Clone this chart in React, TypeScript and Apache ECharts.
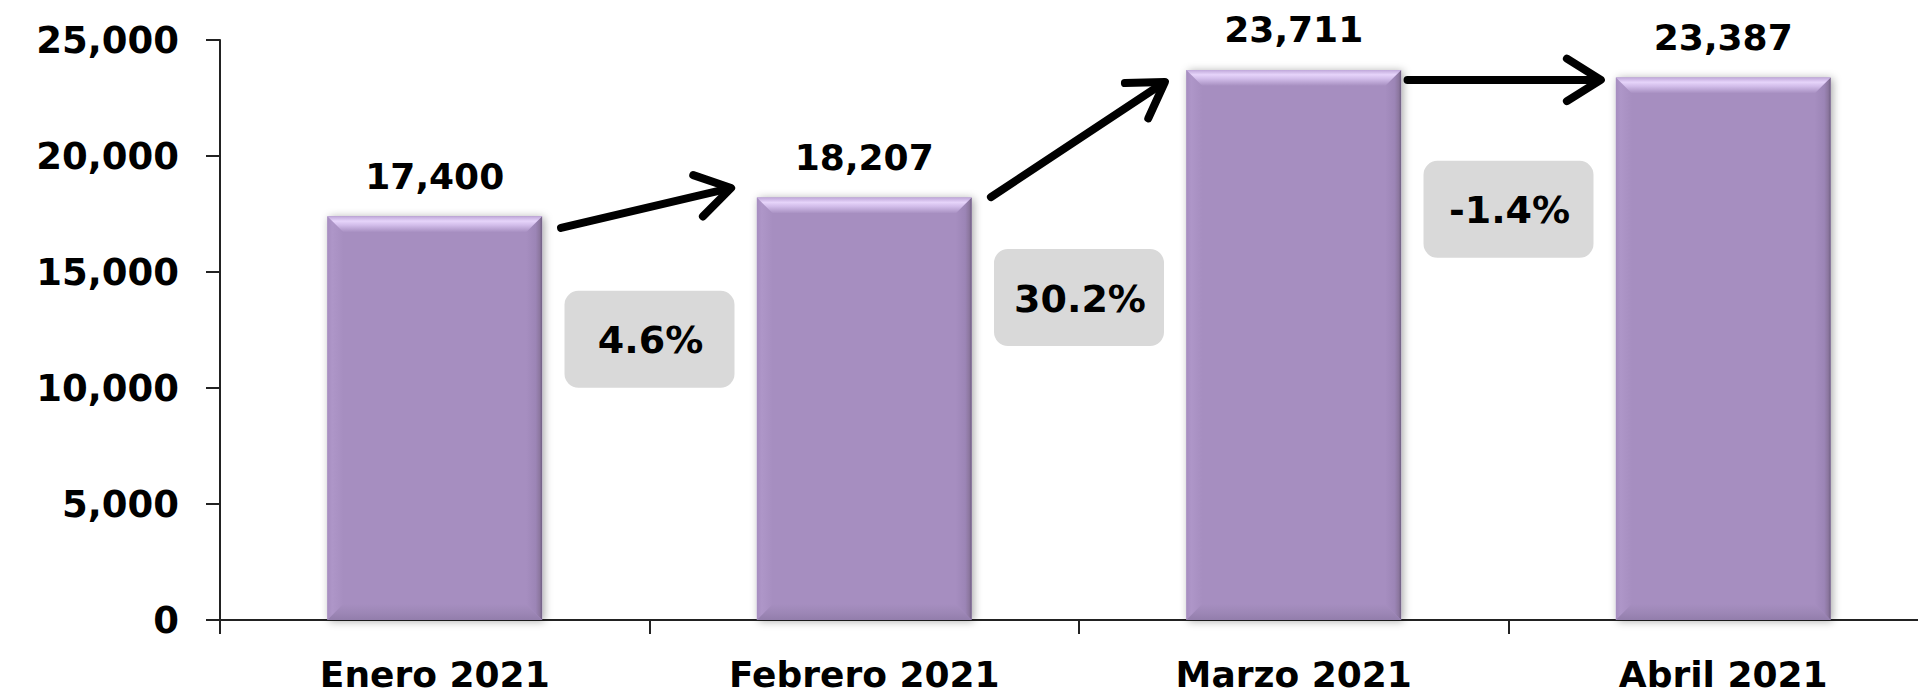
import React, { useEffect, useRef } from 'react';
import * as echarts from 'echarts';

// ---- data ----
const categories = ['Enero 2021', 'Febrero 2021', 'Marzo 2021', 'Abril 2021'];
const values = [17400, 18207, 23711, 23387];
const changeLabels = ['4.6%', '30.2%', '-1.4%'];
const yMin = 0;
const yMax = 25000;
const yInterval = 5000;

// ---- annotation layout (axis units: category index, value) ----
const boxAnchorValues = [12100, 13900, 17700];
const arrowFromX = [0.294, 1.295, 2.265];
const arrowFromY = [16900, 18230, 23280];
const arrowToX = [0.69, 1.70, 2.715];
const arrowToY = [18620, 23190, 23280];

const FONT = 'DejaVu Sans';
const BAR_RATIO = 0.5;
const MAIN = '#A68EC0';

const fmt = (v: number) => v.toLocaleString('en-US');

const lg = (x1: number, y1: number, x2: number, y2: number, stops: [number, string][]) =>
  new echarts.graphic.LinearGradient(
    x1, y1, x2, y2,
    stops.map(([offset, color]) => ({ offset, color }))
  );

export default function App() {
  const ref = useRef<HTMLDivElement>(null);
  useEffect(() => {
    if (!ref.current) return;
    const chart = echarts.init(ref.current, undefined, { renderer: 'svg' });
    chart.setOption({
      animation: false,
      backgroundColor: '#ffffff',
      grid: { left: 220, top: 40, width: 1718, height: 580, containLabel: false, outerBoundsMode: 'none' },
      xAxis: {
        type: 'category',
        data: categories,
        axisLine: { show: true, lineStyle: { color: '#222', width: 2 } },
        axisTick: { show: true, length: 14, lineStyle: { color: '#222', width: 2 } },
        axisLabel: {
          interval: 0,
          margin: 36,
          color: '#000',
          fontFamily: FONT,
          fontWeight: 'bold',
          fontSize: 36,
        },
      },
      yAxis: {
        type: 'value',
        min: yMin,
        max: yMax,
        interval: yInterval,
        splitLine: { show: false },
        axisLine: { show: true, lineStyle: { color: '#222', width: 2 } },
        axisTick: { show: true, length: 14, lineStyle: { color: '#222', width: 2 } },
        axisLabel: {
          margin: 41,
          color: '#000',
          fontFamily: FONT,
          fontWeight: 'bold',
          fontSize: 37,
          formatter: (v: number) => fmt(v),
        },
      },
      series: [
        {
          type: 'bar',
          data: values,
          barWidth: BAR_RATIO * 100 + '%',
          itemStyle: {
            color: MAIN,
            shadowBlur: 8,
            shadowColor: 'rgba(0,0,0,0.35)',
            shadowOffsetX: 2,
            shadowOffsetY: 1,
          },
          label: {
            show: true,
            position: 'top',
            distance: 22,
            color: '#000',
            fontFamily: FONT,
            fontWeight: 'bold',
            fontSize: 36,
            formatter: (p: any) => fmt(p.value),
          },
          z: 2,
        },
        {
          type: 'custom',
          silent: true,
          z: 3,
          data: values.map((v, i) => [i, v]),
          renderItem: (params: any, api: any) => {
            const idx = api.value(0);
            const val = api.value(1);
            const top = api.coord([idx, val]);
            const base = api.coord([idx, 0]);
            const w = api.size([1, 0])[0] * BAR_RATIO;
            const x0 = top[0] - w / 2;
            const x1 = top[0] + w / 2;
            const y0 = top[1];
            const y1 = base[1];
            const b = 16;
            return {
              type: 'group',
              children: [
                {
                  type: 'polygon',
                  shape: { points: [[x0, y1], [x0 + b, y1 - b], [x0 + b, y0 + b], [x0, y0]] },
                  style: { fill: lg(0, 0, 1, 0, [[0, '#A68DC0'], [0.3, '#AE96C8'], [1, MAIN]]) },
                },
                {
                  type: 'polygon',
                  shape: { points: [[x1, y0], [x1, y1], [x1 - b, y1 - b], [x1 - b, y0 + b]] },
                  style: { fill: lg(0, 0, 1, 0, [[0, MAIN], [0.6, '#9C85B6'], [0.85, '#8C779F'], [1, '#6F5E82']]) },
                },
                {
                  type: 'polygon',
                  shape: { points: [[x0, y1], [x1, y1], [x1 - b, y1 - b], [x0 + b, y1 - b]] },
                  style: { fill: lg(0, 0, 0, 1, [[0, MAIN], [0.6, '#9C86B5'], [1, '#927DAB']]) },
                },
                {
                  type: 'polygon',
                  shape: { points: [[x0, y0], [x1, y0], [x1 - b, y0 + b], [x0 + b, y0 + b]] },
                  style: {
                    fill: lg(0, 0, 0, 1, [
                      [0, '#BFA7D9'],
                      [0.3, '#E6D4FA'],
                      [0.55, '#D2BDEA'],
                      [1, MAIN],
                    ]),
                  },
                },
              ],
            };
          },
        },
      ],
    });

    const p0 = chart.convertToPixel({ gridIndex: 0 }, [0, yMin]) as number[];
    const p1 = chart.convertToPixel({ gridIndex: 0 }, [1, yMax]) as number[];
    const step = p1[0] - p0[0];
    const toPx = (xi: number, v: number) => [
      p0[0] + xi * step,
      p0[1] + ((p1[1] - p0[1]) * (v - yMin)) / (yMax - yMin),
    ];

    const graphics: any[] = [];
    changeLabels.forEach((txt, i) => {
      const c = toPx(i + 0.5, boxAnchorValues[i]);
      const bw = 170;
      const bh = 97;
      graphics.push({
        type: 'rect',
        shape: { x: c[0] - bw / 2, y: c[1] - bh / 2, width: bw, height: bh, r: 14 },
        style: { fill: '#D9D9D9' },
        z: 10,
      });
      graphics.push({
        type: 'text',
        x: c[0] + 1,
        y: c[1] + 1,
        style: {
          text: txt,
          fill: '#000',
          font: `bold 38px "${FONT}"`,
          align: 'center',
          verticalAlign: 'middle',
          textAlign: 'center',
          textVerticalAlign: 'middle',
        },
        z: 11,
      });
    });

    arrowFromX.forEach((_, i) => {
      const a = toPx(arrowFromX[i], arrowFromY[i]);
      const t = toPx(arrowToX[i], arrowToY[i]);
      const ang = Math.atan2(t[1] - a[1], t[0] - a[0]);
      const L = 40;
      const half = (32 * Math.PI) / 180;
      const h1 = [t[0] - L * Math.cos(ang - half), t[1] - L * Math.sin(ang - half)];
      const h2 = [t[0] - L * Math.cos(ang + half), t[1] - L * Math.sin(ang + half)];
      const lineStyle = { stroke: '#000', lineWidth: 8, lineCap: 'round', lineJoin: 'round', fill: null };
      graphics.push({
        type: 'line',
        shape: { x1: a[0], y1: a[1], x2: t[0] - 3 * Math.cos(ang), y2: t[1] - 3 * Math.sin(ang) },
        style: lineStyle,
        z: 12,
      });
      graphics.push({
        type: 'polyline',
        shape: { points: [h1, t, h2] },
        style: lineStyle,
        z: 12,
      });
    });

    chart.setOption({ graphic: graphics });

    return () => chart.dispose();
  }, []);

  return (
    <div
      ref={ref}
      style={{ position: 'absolute', left: 0, top: 0, width: 1918, height: 695 }}
    />
  );
}
